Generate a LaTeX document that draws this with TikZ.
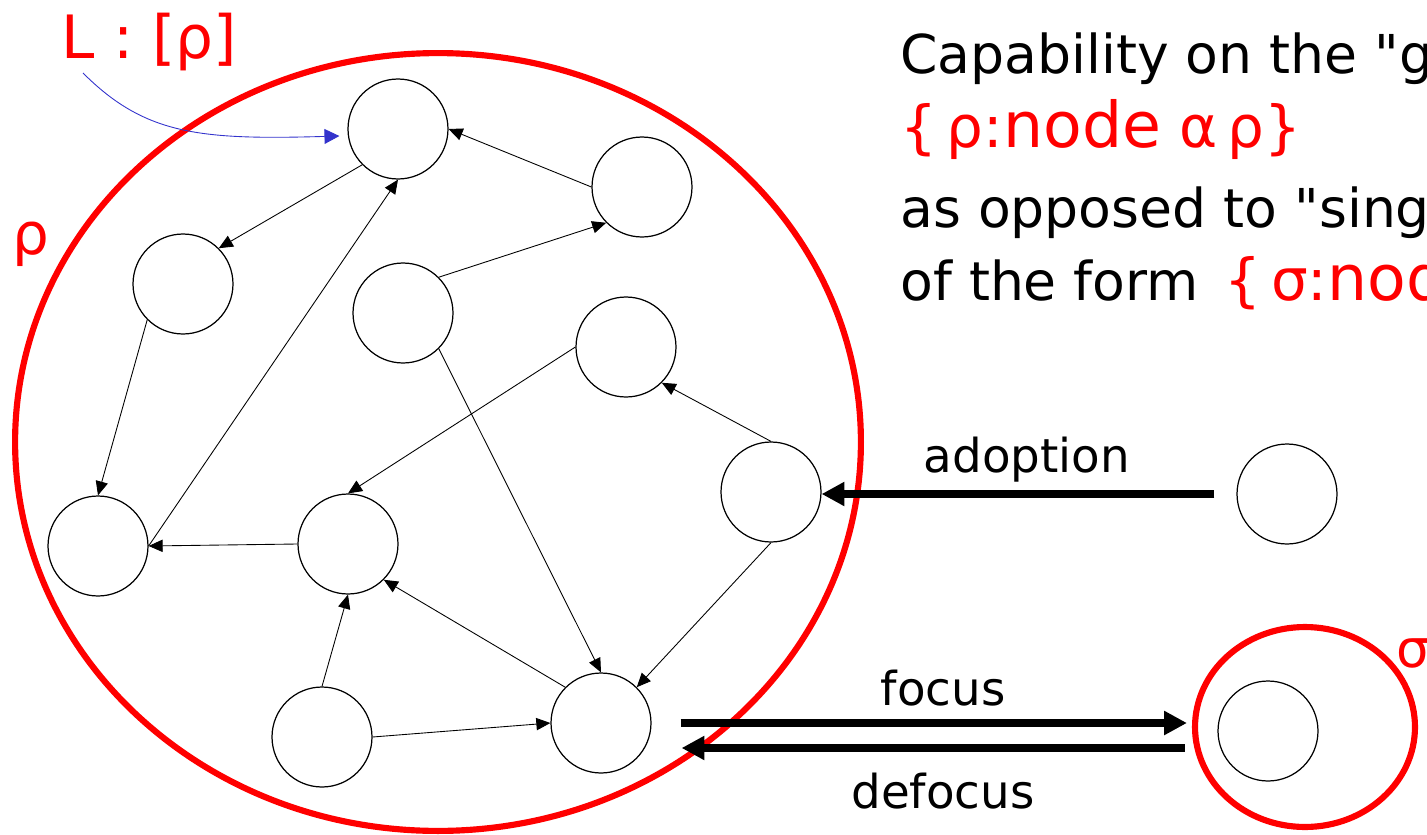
\documentclass[tikz,border=0pt]{standalone}
\usepackage{fontspec}
\setmainfont{DejaVu Sans}[Ligatures=TeXOff]
\usetikzlibrary{positioning, arrows.meta, shapes.geometric}
\definecolor{linkblue}{RGB}{51,51,204}

\begin{document}
\begin{tikzpicture}[
    x=0.02cm, y=-0.02cm,
    vertex/.style={draw, circle, minimum size=2cm, inner sep=0pt, line width=0.7pt},
    redring/.style={draw=red, ellipse, line width=3.5pt, inner sep=0pt},
    arrow/.style={-{Triangle[length=8pt, width=7pt]}, line width=0.5pt},
    bigarrow/.style={-{Triangle[length=13pt, width=13pt]}, line width=4.3pt},
    txt/.style={font=\fontsize{30.5}{36}\selectfont, anchor=base west, inner sep=0pt},
    formula/.style={font=\fontsize{33}{40}\selectfont, text=red, anchor=base west, inner sep=0pt},
    lbl/.style={font=\fontsize{26.6}{32}\selectfont, anchor=base, inner sep=0pt}
]
    \useasboundingbox (0,0) rectangle (1427,835);
    \clip (0,0) rectangle (1427,835);

    \node[redring, minimum width=16.92cm, minimum height=15.56cm] (grp) at (438,442) {};
    \node[redring, minimum width=4.4cm, minimum height=4cm] (sig) at (1305,727) {};

    \node[vertex] (n1) at (398,129) {};
    \node[vertex] (n2) at (642,187) {};
    \node[vertex] (n3) at (183,284) {};
    \node[vertex] (n4) at (403,313) {};
    \node[vertex] (n5) at (626,347) {};
    \node[vertex] (n6) at (771,492) {};
    \node[vertex] (n7) at (98,546) {};
    \node[vertex] (n8) at (348,544) {};
    \node[vertex] (n9) at (322,737) {};
    \node[vertex] (n10) at (601,723) {};
    \node[vertex] (n11) at (1287,494) {};
    \node[vertex] (n12) at (1268,731) {};

    \draw[arrow] (n2.west) -- (n1.east);
    \draw[arrow] (n1.225) -- (n3.45);
    \draw[arrow] (n7.east) -- (n1.south);
    \draw[arrow] (n4.45) -- (n2.225);
    \draw[arrow] (n3.225) -- (n7.north);
    \draw[arrow] (n4.-45) -- (n10.north);
    \draw[arrow] (n5.west) -- (n8.north);
    \draw[arrow] (n6.north) -- (n5.-45);
    \draw[arrow] (n8.west) -- (n7.east);
    \draw[arrow] (n6.south) -- (n10.45);
    \draw[arrow] (n10.135) -- (n8.-45);
    \draw[arrow] (n9.north) -- (n8.south);
    \draw[arrow] (n9.east) -- (n10.west);

    \draw[bigarrow, shorten <=0.44cm] (n11.west) -- (n11.west -| n6.east);
    \draw[bigarrow, shorten <=0.58cm, shorten >=0.1cm] (n10.east) -- (n10.east -| sig.west);
    \coordinate (dfEnd) at ([yshift=-0.5cm]n10.east);
    \draw[bigarrow, shorten <=0.14cm, shorten >=0.6cm] (dfEnd -| sig.west) -- (dfEnd);

    \node[lbl] (adopt) at (1027,472) {adoption};
    \node[lbl] (foc) at (943,705) {focus};
    \node[lbl] (defoc) at (943,808) {defocus};

    \node[anchor=base west, inner sep=0pt, text=red, font=\fontsize{34}{40}\selectfont] (lname) at (61,58) {L : [ρ]};
    \coordinate (lbltail) at (83,73);
    \draw[linkblue, line width=0.5pt, -{Triangle[length=8.5pt, width=8.5pt]}] (lbltail) .. controls (145,135) and (200,140) .. ([shift={(-8,7)}]n1.west);

    \node[anchor=base, inner sep=0pt, text=red, font=\fontsize{33}{40}\selectfont] (rho) at (31,254) {ρ};
    \node[anchor=base west, inner sep=0pt, text=red, font=\fontsize{30}{36}\selectfont] (sigma) at (1396,667) {σ};

    \node[txt] (cap1) at (900,73) {Capability on the "group"};
    \node[formula] (cap2) at (900,147) {\{\,ρ:{\fontsize{36}{40}\selectfont node} α\,ρ\}};
    \node[txt] (cap3) at (900,227) {as opposed to "singleton"};
    \node[txt] (cap4) at (900,300) {of the form};
    \node[formula, right=0.5cm of cap4.base east, anchor=base west] (cap5) {\{\,σ:{\fontsize{36}{40}\selectfont node} α\,σ\}};
\end{tikzpicture}
\end{document}
